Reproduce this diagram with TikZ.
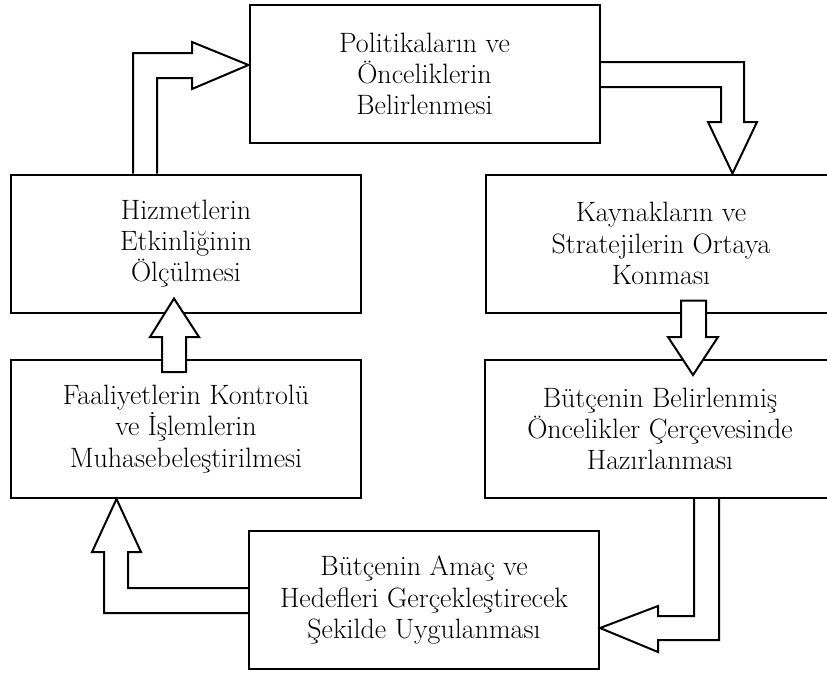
\documentclass[tikz,border=0pt]{standalone}
\usepackage{fontspec}
\usetikzlibrary{calc}

\tikzset{every picture/.style={line width=0.75pt}}
\tikzset{
  box/.style={draw, line width=1.5pt, minimum width=262.5pt, minimum height=103.5pt, align=center, font=\fontsize{21}{23.5}\selectfont},
  blockline/.style={draw, line width=1.5pt, line join=miter},
  blockfill/.style={draw, fill=white, line width=1.5pt, line join=miter}
}

\begin{document}
\begin{tikzpicture}[x=0.75pt,y=0.75pt,yscale=-1,xscale=1]
\clip (0,0) rectangle (827,672);

%Shape: Rectangle
\node[box] (pol) at (424.5,74) {Politikaların ve\\Önceliklerin\\Belirlenmesi};
\node[box] (kay) at (661,243.5) {Kaynakların ve\\Stratejilerin Ortaya\\Konması};
\node[box] (hazir) at (660,429) {Bütçenin Belirlenmiş\\Öncelikler Çerçevesinde\\Hazırlanması};
\node[box] (uyg) at (424,600) {Bütçenin Amaç ve\\Hedefleri Gerçekleştirecek\\Şekilde Uygulanması};
\node[box] (faal) at (186,429) {Faaliyetlerin Kontrolü\\ve İşlemlerin\\Muhasebeleştirilmesi};
\node[box] (hiz) at (186,243.5) {Hizmetlerin\\Etkinliğinin\\Ölçülmesi};

%Block Arrow: hiz -> pol
\draw[blockline] (133,0 |- hiz.north) -- (133,53) -- (192,53) -- (192,42) -- (pol.west |- 0,65) -- (192,89) -- (192,78) -- (157,78) -- (157,0 |- hiz.north);

%Block Arrow: pol -> kay
\draw[blockline] (pol.east |- 0,62) -- (744,62) -- (744,122) -- (757,122) -- (732.5,0 |- kay.north) -- (708,122) -- (721,122) -- (721,87) -- (pol.east |- 0,87);

%Block Arrow: kay -> hazir
\draw[blockfill] ($(kay.south)+(20,-13)$) -- ($(kay.south)+(45,-13)$) -- (706,337) -- (718,337) -- ($(hazir.north)+(33,16)$) -- (668,337) -- (681,337) -- cycle;

%Block Arrow: hazir -> uyg
\draw[blockline] (694,0 |- hazir.south) -- (694,616) -- (658,616) -- (658,606) -- (uyg.east |- 0,628) -- (658,652) -- (658,640) -- (719,640) -- (719,0 |- hazir.south);

%Block Arrow: uyg -> faal
\draw[blockline] (uyg.west |- 0,588) -- (128,588) -- (128,552) -- (141,552) -- (116.5,0 |- faal.south) -- (92,552) -- (104,552) -- (104,613) -- (uyg.west |- 0,613);

%Block Arrow: faal -> hiz
\draw[blockfill] ($(faal.north)+(-24,13)$) -- (162,337) -- (150,337) -- ($(hiz.south)+(-12,-15)$) -- (199,337) -- (186,337) -- ($(faal.north)+(0,13)$) -- cycle;

\end{tikzpicture}
\end{document}
